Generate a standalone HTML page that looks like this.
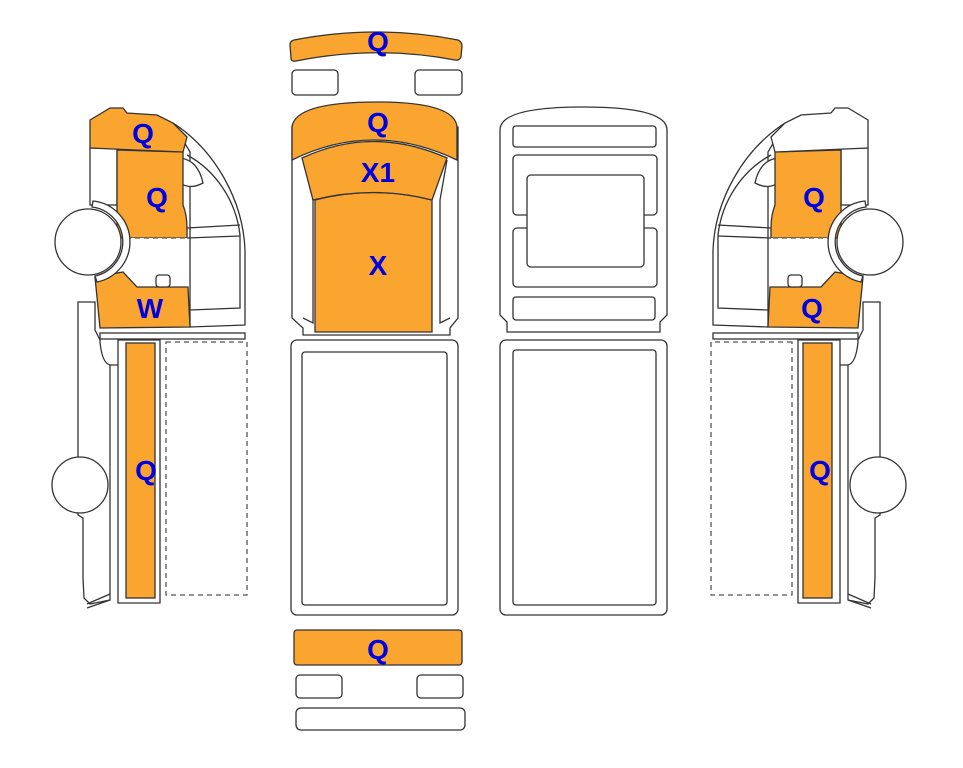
<!DOCTYPE html>
<html><head><meta charset="utf-8"><style>
html,body{margin:0;padding:0;background:#fff;width:963px;height:768px;overflow:hidden}
svg{display:block}
text{font-family:"Liberation Sans",Arial,sans-serif;font-weight:bold;font-size:28px;fill:#0000e0;text-anchor:middle}
.o{fill:#faa52f;stroke:#333;stroke-width:1.3}
.w{fill:#fff;stroke:#333;stroke-width:1.3}
.n{fill:none;stroke:#333;stroke-width:1.3}
.d{fill:none;stroke:#555;stroke-width:1.3;stroke-dasharray:5 4}
</style></head><body>
<svg width="963" height="768" viewBox="0 0 963 768" xmlns="http://www.w3.org/2000/svg">
<defs>
<g id="side">
  <path class="w" d="M173,123 C215,150 243,200 245,250 L245,325 L190,327 L190,152 Z"/>
  <path class="n" d="M187,155 C215,170 236,200 240,235 L240,308 L190,310"/>
  <path class="n" d="M187,228 L240,225 M187,238 L240,236"/>
  <path class="w" d="M180,158 Q198,160 203,183 Q190,190 180,183 Z"/>
  <rect class="w" x="90" y="148" width="27" height="57"/>
  <path class="o" d="M117,150 L183,152 L183,205 Q187,215 187,228 L187,238 L117,238 Z"/>
  <rect class="w" x="117" y="238" width="70" height="34" style="stroke:none"/>
  <line class="d" x1="117" y1="238" x2="187" y2="238"/>
  <path class="o" d="M95,277 L123,272 L137,287 L188,287 L190,327 L100,328 Z"/>
  <rect class="w" x="156" y="275" width="14" height="12" rx="3"/>
  <path class="w" d="M93,201 A41,41 0 0 1 97,282 L95,276 A35,35 0 0 0 92,207 Z"/>
  <circle class="w" cx="88" cy="242" r="33"/>
  <rect class="w" x="100" y="333" width="145" height="6"/>
  <path class="w" d="M78,302 L95,302 L95,330 L100,340 L100,342 Q102,363 110,365 L110,600 L90,604 L84,598 L83,578 L83,518 L78,515 L78,458 L78,340 Z"/>
  <path class="n" d="M110,365 L118,365 L118,603 L160,603 L160,340 L118,340 L118,365"/>
  <path class="n" d="M87,604 L110,594 M87,608 L110,600"/>
  <rect class="o" x="126" y="343" width="29" height="255"/>
  <rect class="d" x="166" y="342" width="81" height="253"/>
  <circle class="w" cx="80" cy="485" r="28"/>
</g>
</defs>

<use href="#side"/>
<path class="o" d="M90,120 L110,108 L123,108 L127,113 L157,115 L173,123 L187,137 L183,152 L90,148 Z"/>
<text x="143" y="143">Q</text>
<text x="157" y="207">Q</text>
<text x="150" y="318">W</text>
<text x="146" y="480">Q</text>

<g transform="translate(958,0) scale(-1,1)">
<use href="#side"/>
<path class="w" d="M90,120 L110,108 L123,108 L127,113 L157,115 L173,123 L187,137 L183,152 L90,148 Z"/>
</g>
<text x="814" y="207">Q</text>
<text x="812" y="318">Q</text>
<text x="820" y="480">Q</text>

<path class="o" d="M294,40 Q376,24 458,40 Q462,42 462,46 L461,57 Q459,61 455,60 Q376,45 296,61 Q291,62 291,58 L290,45 Q290,41 294,40 Z"/>
<rect class="w" x="292" y="70" width="46" height="25" rx="4"/>
<rect class="w" x="415" y="70" width="47" height="25" rx="4"/>
<path class="w" d="M292,127 L292,318 L303,328 L303,335 L450,335 L450,328 L458,318 L458,127 Z"/>
<path class="n" d="M303,160 L313,200 L313,323 L303,318 M447,160 L440,200 L440,323 L450,318"/>
<path class="o" d="M315,200 Q373,185 432,200 L432,332 L315,332 Z"/>
<path class="o" d="M302,158 Q373,125 447,158 L432,200 Q373,185 313,200 Z"/>
<path class="o" d="M292,160 L292,127 Q295,102 377,102 Q455,102 457,127 L457,160 Q373,120 292,160 Z"/>
<text x="378" y="51">Q</text>
<text x="378" y="132">Q</text>
<text x="378" y="182">X1</text>
<text x="378" y="275">X</text>

<rect class="w" x="291" y="340" width="167" height="275" rx="6"/>
<rect class="w" x="302" y="352" width="145" height="253" rx="3"/>
<rect class="o" x="294" y="630" width="168" height="35" rx="3"/>
<text x="378" y="659">Q</text>
<rect class="w" x="296" y="675" width="46" height="23" rx="4"/>
<rect class="w" x="417" y="675" width="46" height="23" rx="4"/>
<rect class="w" x="296" y="708" width="169" height="22" rx="5"/>

<path class="w" d="M500,130 Q500,107 583,107 Q667,107 667,130 L667,315 L660,322 L660,332 L507,332 L507,322 L500,315 Z"/>
<rect class="w" x="513" y="126" width="143" height="21" rx="3"/>
<rect class="w" x="513" y="155" width="144" height="60" rx="4"/>
<rect class="w" x="513" y="228" width="144" height="59" rx="4"/>
<rect class="w" x="527" y="175" width="117" height="92" rx="4"/>
<rect class="w" x="513" y="297" width="142" height="23" rx="3"/>
<rect class="w" x="500" y="340" width="167" height="275" rx="6"/>
<rect class="w" x="513" y="350" width="143" height="255" rx="3"/>
</svg>
</body></html>
